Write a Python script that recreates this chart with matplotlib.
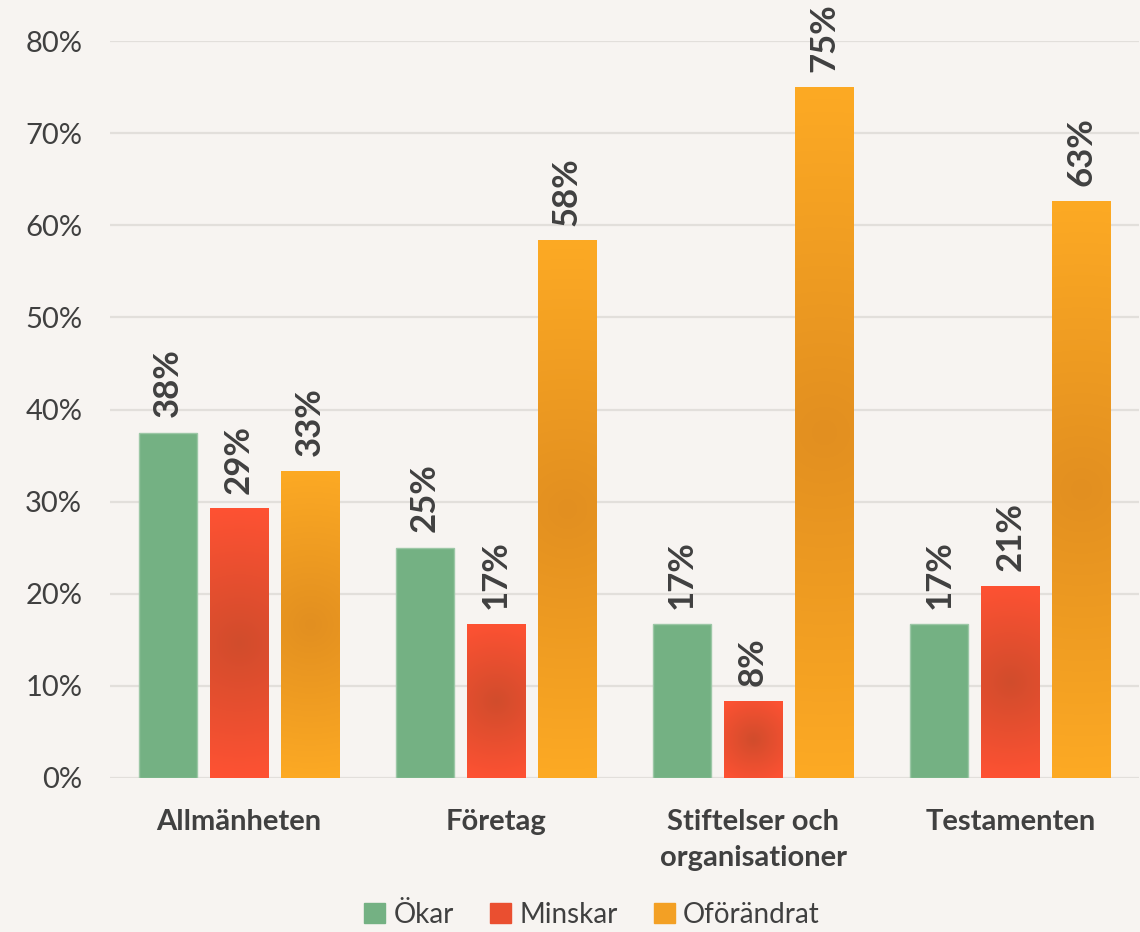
import matplotlib.pyplot as plt
from matplotlib.patches import Patch
import numpy as np

plt.rcParams['font.family'] = ['Lato', 'DejaVu Sans']

categories = ['Allmänheten', 'Företag', 'Stiftelser och\norganisationer', 'Testamenten']
series = ['Ökar', 'Minskar', 'Oförändrat']
okar = [37.5, 25.0, 16.7, 16.7]
minskar = [29.2, 16.7, 8.3, 20.8]
oforandrat = [33.3, 58.3, 75.0, 62.6]
yticks = [0, 10, 20, 30, 40, 50, 60, 70, 80]

bg = '#F7F4F1'
text_col = '#404040'
green = '#74B183'
red_edge, red_mid = np.array([255, 82, 51]) / 255, np.array([209, 76, 44]) / 255
org_edge, org_mid = np.array([253, 170, 36]) / 255, np.array([226, 143, 32]) / 255

W, H = 1140, 932
fig = plt.figure(figsize=(W / 100, H / 100), dpi=100, facecolor=bg)
ax = fig.add_axes([110 / W, 1 - 778 / H, 1029 / W, (778 - 41) / H])
ax.set_facecolor(bg)

px_x = 1029 / 4.0       # pixels per category unit
px_y = (778 - 41) / 80  # pixels per percent

bw = 0.226
offs = [-0.276, 0.0, 0.276]
x = np.arange(len(categories))


def grad_bar(xc, h, edge, mid):
    # path gradient from the bar centre out to its corners (pixel distances)
    nx = int(round(bw * px_x))
    ny = max(int(round(h * px_y)), 2)
    xs = np.linspace(-nx / 2, nx / 2, nx)
    ys = np.linspace(-ny / 2, ny / 2, ny)
    X, Y = np.meshgrid(xs, ys)
    r = np.hypot(nx / 2, ny / 2)
    d = np.clip(np.hypot(X, Y) / r, 0, 1)[..., None]
    img = mid * (1 - d) + edge * d
    ax.imshow(img, extent=(xc - bw / 2, xc + bw / 2, 0, h), aspect='auto',
              interpolation='bilinear', origin='lower', zorder=3)


ax.bar(x + offs[0], okar, bw, color=green, edgecolor='#9CC7A6', linewidth=1, zorder=3)
for i in range(len(categories)):
    grad_bar(x[i] + offs[1], minskar[i], red_edge, red_mid)
    grad_bar(x[i] + offs[2], oforandrat[i], org_edge, org_mid)

ax.set_xlim(-0.5, 3.5)
ax.set_ylim(0, 80)

for k, vals in enumerate([okar, minskar, oforandrat]):
    for i, v in enumerate(vals):
        ax.annotate(f'{v:.0f}%', (x[i] + offs[k], v), xytext=(0, 11),
                    textcoords='offset points', rotation=90, ha='center',
                    va='bottom', fontsize=25, fontweight='bold', color=text_col)

ax.set_yticks(yticks)
ax.set_yticklabels([f'{t}%' for t in yticks], fontsize=21, color=text_col)
ax.set_xticks(x)
ax.set_xticklabels(categories, fontsize=21, fontweight='bold', color=text_col,
                   linespacing=1.5)
ax.tick_params(axis='both', length=0)
ax.tick_params(axis='x', pad=22)
ax.tick_params(axis='y', pad=20)
ax.grid(axis='y', color='#E2DFDB', linewidth=1.6, zorder=0)
ax.set_axisbelow(True)
for s in ax.spines.values():
    s.set_visible(False)

handles = [Patch(color=green), Patch(color='#EA4F30'), Patch(color='#F3A024')]
fig.legend(handles, series, loc='center', bbox_to_anchor=(592 / W, 1 - 915 / H),
           ncol=3, frameon=False, fontsize=20, handlelength=0.75, handleheight=0.75,
           handletextpad=0.3, columnspacing=1.3, labelcolor=text_col)

fig.savefig('out.png', dpi=100, facecolor=bg)
